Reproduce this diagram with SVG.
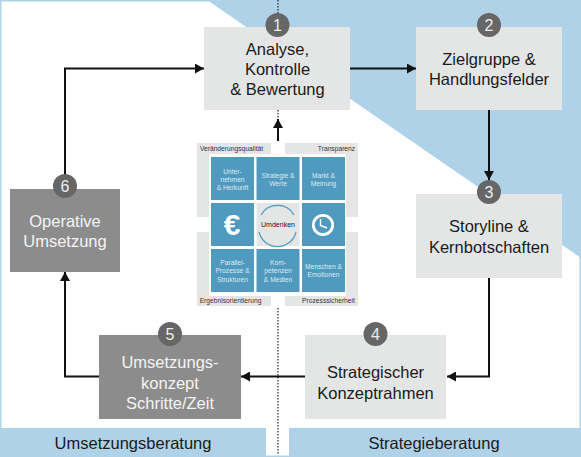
<svg xmlns="http://www.w3.org/2000/svg" width="581" height="457" viewBox="0 0 581 457">
<style>
text{font-family:"Liberation Sans",Arial,sans-serif;text-anchor:middle}
.lb{fill:#b0d2e8}
.box{fill:#e4e6e6}
.dk{fill:#8c8c8c}
.t{font-size:16.500px;fill:#1a1a1a}
.tw{font-size:16.500px;fill:#f4f4f4}
.band{font-size:16.500px;fill:#1a1a1a}
.badge{fill:#666}
.n{font-size:16px;fill:#eee}
.line{fill:none;stroke:#111;stroke-width:2}
.dot{fill:none;stroke:#222;stroke-width:1.2;stroke-dasharray:1.5 1.5}
.cell{fill:#4f9abe}
.c{font-size:6.700px;fill:#dceaf2}
.g{fill:#e4e6e6}
.q{font-size:6.700px;fill:#333}
</style>
<defs>
<marker id="a" markerUnits="userSpaceOnUse" markerWidth="10" markerHeight="10" refX="9" refY="5" orient="auto"><path d="M0 0L9 5L0 10Z" fill="#111"/></marker>
</defs>
<rect width="581" height="457" fill="#fff"/>
<g id="background">
<path class="lb" d="M207 0H581V258Z"/>
<rect class="lb" x="0" y="0" width="581" height="1.5"/>
<rect class="lb" x="0" y="0" width="1.5" height="430"/>
<rect class="lb" x="579.5" y="250" width="1.5" height="180"/>
<rect class="lb" x="0" y="428" width="266" height="29"/>
<rect class="lb" x="289" y="428" width="292" height="29"/>
<rect class="lb" x="266" y="455.5" width="23" height="1.5"/>
</g>
<g id="connectors">
<path class="dot" d="M278 0V16M278 110V122M278 308V455"/>
<path class="line" d="M350 68.500H416" marker-end="url(#a)"/>
<path class="line" d="M489 110V180" marker-end="url(#a)"/>
<path class="line" d="M489 278V376.500H447" marker-end="url(#a)"/>
<path class="line" d="M305 376.500H241" marker-end="url(#a)"/>
<path class="line" d="M99 376.500H65V272" marker-end="url(#a)"/>
<path class="line" d="M65 176V68.500H204" marker-end="url(#a)"/>
<path class="line" d="M278 141V119" marker-end="url(#a)"/>
</g>
<g id="node-1">
<rect class="box" x="204" y="27" width="146" height="83"/>
<circle class="badge" cx="277.500" cy="25" r="12"/><text class="n" x="277.500" y="30.500">1</text>
<text class="t" x="277.500" y="55">Analyse,</text><text class="t" x="277.500" y="75">Kontrolle</text><text class="t" x="277.500" y="95">&amp; Bewertung</text>
</g>
<g id="node-2">
<rect class="box" x="416" y="27" width="146" height="83"/>
<circle class="badge" cx="489" cy="25" r="12"/><text class="n" x="489" y="30.500">2</text>
<text class="t" x="489" y="65">Zielgruppe &amp;</text><text class="t" x="489" y="85">Handlungsfelder</text>
</g>
<g id="node-3">
<rect class="box" x="416" y="194" width="146" height="84"/>
<circle class="badge" cx="489" cy="192" r="12"/><text class="n" x="489" y="197.500">3</text>
<text class="t" x="489" y="232">Storyline &amp;</text><text class="t" x="489" y="253">Kernbotschaften</text>
</g>
<g id="node-4">
<rect class="box" x="305" y="335" width="141" height="84"/>
<circle class="badge" cx="375.500" cy="334" r="12"/><text class="n" x="375.500" y="339.500">4</text>
<text class="t" x="375.500" y="378">Strategischer</text><text class="t" x="375.500" y="399">Konzeptrahmen</text>
</g>
<g id="node-5">
<rect class="dk" x="99" y="335" width="142" height="84"/>
<circle class="badge" cx="170" cy="334" r="12"/><text class="n" x="170" y="339.500">5</text>
<text class="tw" x="170" y="368">Umsetzungs-</text><text class="tw" x="170" y="389">konzept</text><text class="tw" x="170" y="409">Schritte/Zeit</text>
</g>
<g id="node-6">
<rect class="dk" x="10" y="189" width="110" height="83"/>
<circle class="badge" cx="65" cy="186" r="12"/><text class="n" x="65" y="192">6</text>
<text class="tw" x="65" y="227">Operative</text><text class="tw" x="65" y="247">Umsetzung</text>
</g>
<g id="band-left"><text class="band" x="133" y="449">Umsetzungsberatung</text></g>
<g id="band-right"><text class="band" x="434" y="449">Strategieberatung</text></g>
<g id="matrix">
<path class="g" d="M197 143H271V154H209V217H197ZM285 143H358V217H346V154H285ZM197 232H209V296H271V306H197ZM346 232H358V306H285V296H346Z"/>
<text class="q" x="231.500" y="151">Veränderungsqualität</text>
<text class="q" x="336.500" y="151">Transparenz</text>
<text class="q" x="230.500" y="302.500">Ergebnisorientierung</text>
<text class="q" x="328.500" y="302.500">Prozesssicherheit</text>
<rect class="cell" x="211" y="157" width="43" height="43"/>
<rect class="cell" x="256.500" y="157" width="43" height="43"/>
<rect class="cell" x="302" y="157" width="43" height="43"/>
<rect class="cell" x="211" y="203" width="43" height="43"/>
<rect class="g" x="256.500" y="203" width="43" height="43"/>
<rect class="cell" x="302" y="203" width="43" height="43"/>
<rect class="cell" x="211" y="249" width="43" height="43"/>
<rect class="cell" x="256.500" y="249" width="43" height="43"/>
<rect class="cell" x="302" y="249" width="43" height="43"/>
<text class="c" x="232.500" y="174">Unter-</text><text class="c" x="232.500" y="182">nehmen</text><text class="c" x="232.500" y="190">&amp; Herkunft</text>
<text class="c" x="278" y="178">Strategie &amp;</text><text class="c" x="278" y="186">Werte</text>
<text class="c" x="323.500" y="178">Markt &amp;</text><text class="c" x="323.500" y="186">Meinung</text>
<text x="232" y="235" style="font-size:30px;font-weight:bold;fill:#fff">€</text>
<path d="M261 215A19 19 0 0 1 294 215" fill="none" stroke="#4f9abe" stroke-width="1.200"/>
<path d="M259 232A19 19 0 0 0 296 232" fill="none" stroke="#4f9abe" stroke-width="1.200"/>
<text x="278" y="227" style="font-size:7px;fill:#222">Umdenken</text>
<circle cx="323" cy="225" r="9.700" fill="none" stroke="#fff" stroke-width="2.800"/>
<path d="M320.500 219V225.500L327 228" fill="none" stroke="#fff" stroke-width="1.400"/>
<text class="c" x="232.500" y="265">Parallel-</text><text class="c" x="232.500" y="273">Prozesse &amp;</text><text class="c" x="232.500" y="281.500">Strukturen</text>
<text class="c" x="278" y="265">Kom-</text><text class="c" x="278" y="273">petenzen</text><text class="c" x="278" y="281.500">&amp; Medien</text>
<text class="c" x="323.500" y="269">Menschen &amp;</text><text class="c" x="323.500" y="277">Emotionen</text>
</g>
</svg>
